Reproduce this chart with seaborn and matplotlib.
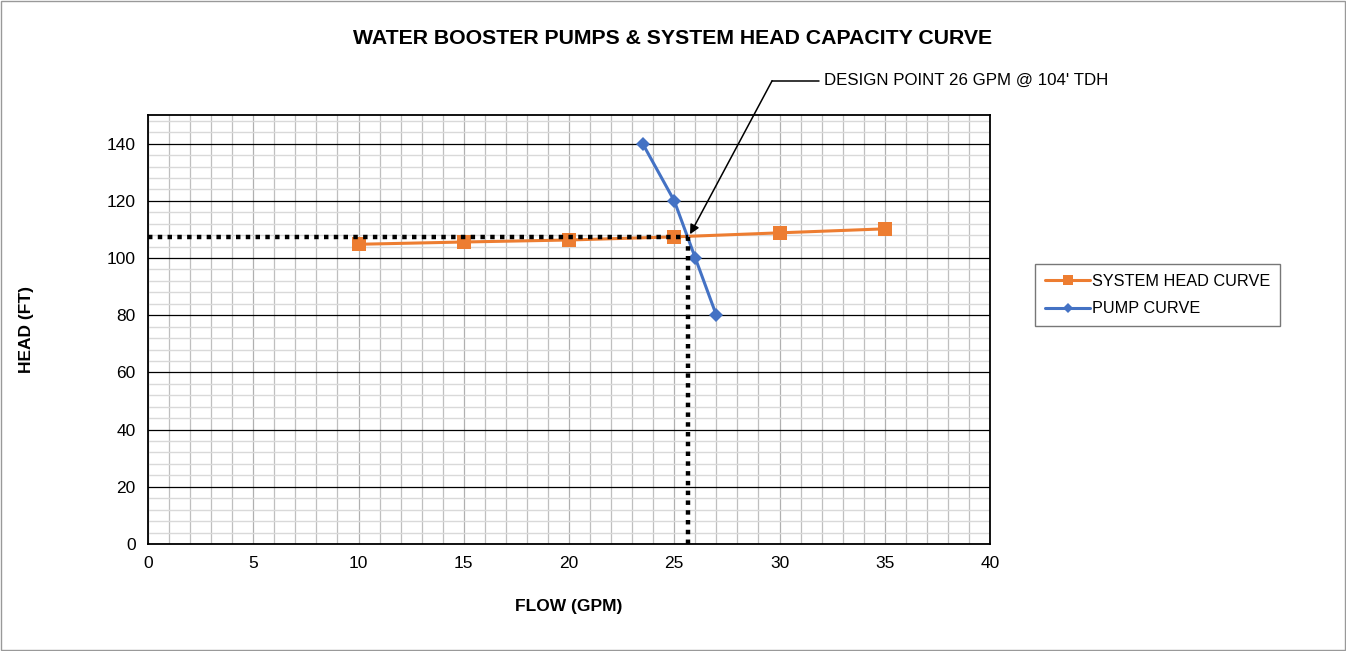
import matplotlib
matplotlib.use("Agg")
import matplotlib.pyplot as plt
from matplotlib.ticker import MultipleLocator
from matplotlib.patches import Rectangle
import seaborn as sns
import pandas as pd

# data
sys_flow = [10, 15, 20, 25, 30, 35]
sys_head = [104.8, 105.6, 106.3, 107.4, 108.8, 110.2]
pump_flow = [23.5, 25, 26, 27]
pump_head = [140, 120, 100, 80]
design_flow = 25.65
design_head = 107.4
x_ticks = [0, 5, 10, 15, 20, 25, 30, 35, 40]
y_ticks = [0, 20, 40, 60, 80, 100, 120, 140]

sns.set_style("white")
plt.rcParams['font.family'] = ['Liberation Sans', 'DejaVu Sans']
plt.rcParams['text.color'] = 'black'
plt.rcParams['axes.labelcolor'] = 'black'
plt.rcParams['xtick.color'] = 'black'
plt.rcParams['ytick.color'] = 'black'

fig = plt.figure(figsize=(13.46, 6.51), dpi=100)
ax = fig.add_axes([0.110, 0.1644, 0.6255, 0.6589])

df_sys = pd.DataFrame({"flow": sys_flow, "head": sys_head, "series": "SYSTEM HEAD CURVE"})
df_pump = pd.DataFrame({"flow": pump_flow, "head": pump_head, "series": "PUMP CURVE"})

# design point dotted guides
ax.plot([0, design_flow], [design_head, design_head], color="black", lw=3.2,
        linestyle=(0, (1, 1.2)), zorder=6)
ax.plot([design_flow, design_flow], [0, design_head], color="black", lw=3.2,
        linestyle=(0, (1, 1.2)), zorder=6)

sns.lineplot(data=df_sys, x="flow", y="head", ax=ax, color="#ED7D31", lw=2.2,
             marker="s", markersize=10, markeredgewidth=0, label="SYSTEM HEAD CURVE",
             zorder=4, sort=False)
sns.lineplot(data=df_pump, x="flow", y="head", ax=ax, color="#4472C4", lw=2.2,
             marker="D", markersize=7.5, markeredgewidth=0, label="PUMP CURVE",
             zorder=5, sort=False)

ax.set_xlim(0, 40)
ax.set_ylim(0, 150)
ax.set_xticks(x_ticks)
ax.set_yticks(y_ticks)
ax.xaxis.set_minor_locator(MultipleLocator(1))
ax.yaxis.set_minor_locator(MultipleLocator(4))
ax.grid(which="minor", axis="y", color="#d9d9d9", lw=1.0, zorder=0)
ax.grid(which="minor", axis="x", color="#bfbfbf", lw=0.9, zorder=0)
ax.grid(which="major", axis="x", color="#b0b0b0", lw=0.9, zorder=0)
ax.grid(which="major", axis="y", color="black", lw=0.9, zorder=1)
ax.set_axisbelow(True)
for s in ax.spines.values():
    s.set_color("black")
    s.set_linewidth(1.3)
ax.tick_params(axis="both", which="major", direction="out", length=5, width=1,
               color="black", labelsize=12.5, pad=4)
ax.tick_params(which="minor", length=0)

ax.set_xlabel("FLOW (GPM)", fontsize=12.5, fontweight="bold", labelpad=20)
ax.set_ylabel("HEAD (FT)", fontsize=12.5, fontweight="bold", labelpad=52)

fig.text(0.5, 0.941, "WATER BOOSTER PUMPS & SYSTEM HEAD CAPACITY CURVE",
         ha="center", va="center", fontsize=15.3, fontweight="bold")

ax.annotate("", xy=(25.75, 108.3), xytext=(29.65, 162),
            arrowprops=dict(arrowstyle="-|>", color="black", lw=1.1,
                            mutation_scale=14, shrinkA=0, shrinkB=0),
            annotation_clip=False)
ax.plot([29.65, 31.9], [162, 162], color="black", lw=1.1, clip_on=False)
ax.text(32.1, 162, "DESIGN POINT 26 GPM @ 104' TDH", fontsize=12.2,
        ha="left", va="center")

leg = ax.legend(loc="center left", bbox_to_anchor=(1.044, 0.58), frameon=True,
                fancybox=False, fontsize=11.7, handlelength=2.8, borderpad=0.6,
                labelspacing=0.75, handletextpad=0.1, markerscale=0.65)
leg.get_frame().set_edgecolor("#555555")
leg.get_frame().set_linewidth(1.0)

fig.patches.append(Rectangle((0.001, 0.002), 0.998, 0.996, transform=fig.transFigure,
                             fill=False, edgecolor="#999999", lw=1))

fig.savefig("out.png", dpi=100)
